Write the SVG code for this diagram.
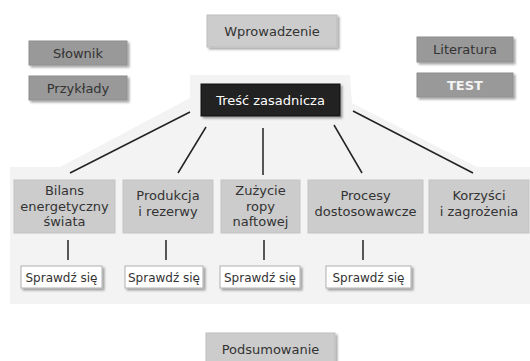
<svg xmlns="http://www.w3.org/2000/svg" width="530" height="361" viewBox="0 0 530 361">
<defs>
<filter id="sh" x="-10%" y="-20%" width="130%" height="160%">
<feDropShadow dx="2" dy="2" stdDeviation="1.2" flood-color="#000" flood-opacity="0.35"/>
</filter>
<style>
text{font-family:"DejaVu Sans","Verdana",sans-serif;text-anchor:middle;fill:#333;}
.t13{font-size:13px;}
.t12{font-size:12px;}
.light{fill:#cccccc;stroke:#bdbdbd;stroke-width:1;}
.mid{fill:#999999;stroke:#8e8e8e;stroke-width:1;}
.row{fill:#cccccc;stroke:#c4c4c4;stroke-width:1;}
.chk{fill:#ffffff;stroke:#b0b0b0;stroke-width:1;}
.dark{fill:#222222;stroke:#111;stroke-width:1;}
.conn line{stroke:#222;stroke-width:1.5;}
</style>
</defs>
<rect width="530" height="361" fill="#ffffff"/>
<polygon points="190,75 350,75 352,103 477,167 530,167 530,304 10,304 10,167 60,167 190,98" fill="#f3f3f3"/>

<g id="conn" class="conn">
<line x1="190" y1="112" x2="70" y2="173"/>
<line x1="206" y1="127" x2="178" y2="173"/>
<line x1="263" y1="128" x2="263" y2="175"/>
<line x1="334" y1="125" x2="362" y2="173"/>
<line x1="353" y1="111" x2="473" y2="173"/>
<line x1="68" y1="240" x2="68" y2="260"/>
<line x1="166" y1="240" x2="166" y2="260"/>
<line x1="264" y1="240" x2="264" y2="260"/>
<line x1="363" y1="240" x2="363" y2="260"/>
</g>

<g id="wprowadzenie"><rect class="light" x="207" y="15" width="130" height="32" filter="url(#sh)"/><text class="t13" x="272" y="36">Wprowadzenie</text></g>
<g id="slownik"><rect class="mid" x="29" y="41" width="98" height="24" filter="url(#sh)"/><text class="t13" x="78" y="57.5">Słownik</text></g>
<g id="przyklady"><rect class="mid" x="29" y="76" width="98" height="24" filter="url(#sh)"/><text class="t13" x="78" y="92.5">Przykłady</text></g>
<g id="literatura"><rect class="mid" x="417" y="37" width="96" height="25" filter="url(#sh)"/><text class="t13" x="465" y="54">Literatura</text></g>
<g id="test"><rect class="mid" x="417" y="73" width="96" height="24" filter="url(#sh)"/><text class="t13" x="465" y="89.5" style="font-weight:bold;fill:#f2f2f2">TEST</text></g>
<g id="tresc"><rect class="dark" x="201" y="84" width="139" height="32" filter="url(#sh)"/><text class="t13" x="270.5" y="105" style="fill:#ffffff">Treść zasadnicza</text></g>

<g id="bilans"><rect class="row" x="14" y="180" width="101" height="53"/><text class="t13" x="64.5" y="195">Bilans</text><text class="t13" x="64.5" y="210.5">energetyczny</text><text class="t13" x="64.5" y="226">świata</text></g>
<g id="produkcja"><rect class="row" x="123" y="180" width="90" height="53"/><text class="t13" x="168" y="200">Produkcja</text><text class="t13" x="168" y="215.5">i rezerwy</text></g>
<g id="zuzycie"><rect class="row" x="221" y="180" width="79" height="53"/><text class="t13" x="260.5" y="195">Zużycie</text><text class="t13" x="260.5" y="210.5">ropy</text><text class="t13" x="260.5" y="226">naftowej</text></g>
<g id="procesy"><rect class="row" x="308" y="180" width="115" height="53"/><text class="t13" x="365.5" y="200">Procesy</text><text class="t13" x="365.5" y="215.5">dostosowawcze</text></g>
<g id="korzysci"><rect class="row" x="429" y="180" width="100" height="53"/><text class="t13" x="479" y="200">Korzyści</text><text class="t13" x="479" y="215.5">i zagrożenia</text></g>

<g id="sprawdz1"><rect class="chk" x="21" y="266" width="81" height="22" filter="url(#sh)"/><text class="t12" x="61.5" y="281.5">Sprawdź się</text></g>
<g id="sprawdz2"><rect class="chk" x="125" y="266" width="78" height="22" filter="url(#sh)"/><text class="t12" x="164" y="281.5">Sprawdź się</text></g>
<g id="sprawdz3"><rect class="chk" x="220" y="266" width="80" height="22" filter="url(#sh)"/><text class="t12" x="260" y="281.5">Sprawdź się</text></g>
<g id="sprawdz4"><rect class="chk" x="326" y="266" width="85" height="22" filter="url(#sh)"/><text class="t12" x="368.5" y="281.5">Sprawdź się</text></g>

<g id="podsumowanie"><rect class="light" x="206" y="333" width="129" height="34" filter="url(#sh)"/><text class="t13" x="270.5" y="354">Podsumowanie</text></g>
</svg>
